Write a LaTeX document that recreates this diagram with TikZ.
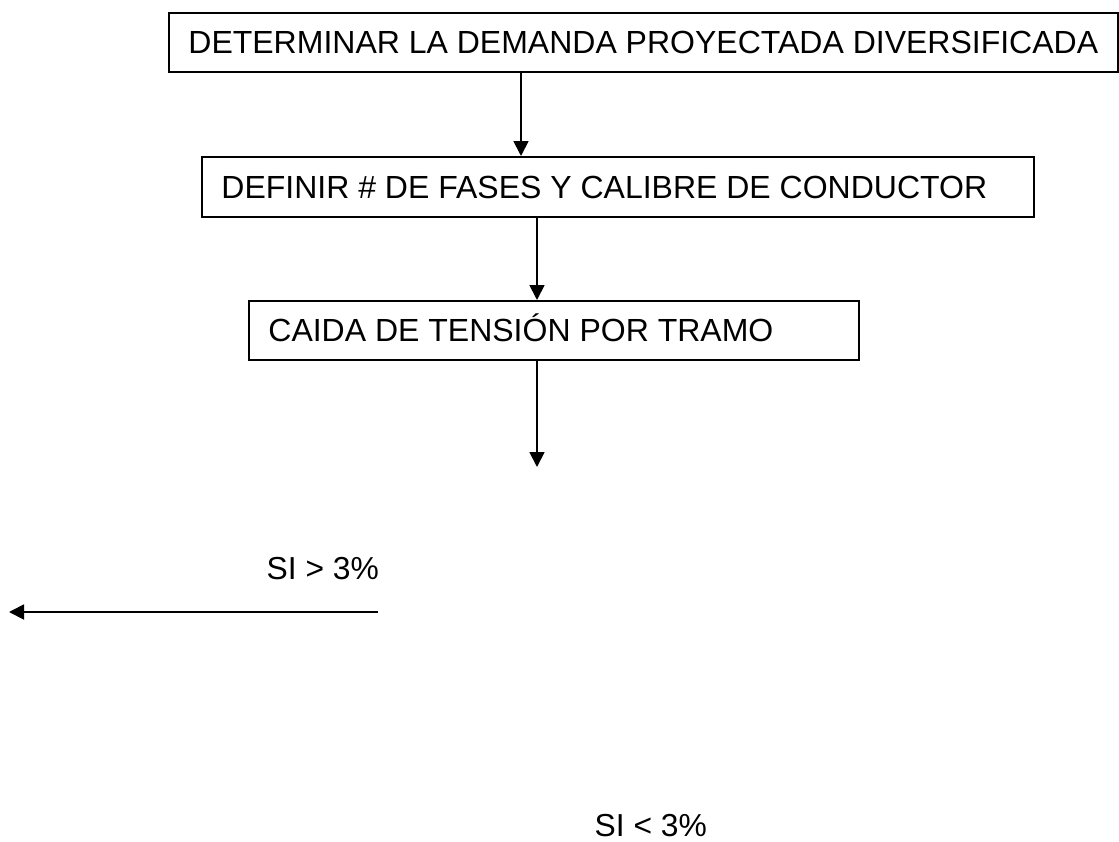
\documentclass[tikz,border=0pt]{standalone}
\usepackage{fontspec}
\setmainfont{Liberation Sans}
\usetikzlibrary{arrows.meta}
\tikzset{
  flowbox/.style={draw=black, line width=1.8pt, inner xsep=19.5pt, inner ysep=0pt,
    text height=22.9pt, text depth=0pt, anchor=north west,
    font=\fontsize{32}{38}\selectfont},
  flowlbl/.style={inner sep=0pt, anchor=base west, font=\fontsize{31.8}{38}\selectfont},
  flowarrow/.style={line width=1.8pt, -{Triangle[length=15pt,width=15pt]}}
}
\begin{document}
\begin{tikzpicture}[x=1pt,y=-1pt]
\useasboundingbox (0,0) rectangle (1119,841);
\node[flowbox, minimum width=949pt, minimum height=59pt] (b1) at (168,12)
  {\makebox[910pt][l]{DETERMINAR LA DEMANDA PROYECTADA DIVERSIFICADA}};
\node[flowbox, minimum width=832pt, minimum height=60pt] (b2) at (201,156)
  {\makebox[793pt][l]{DEFINIR \# DE FASES Y CALIBRE DE CONDUCTOR}};
\node[flowbox, minimum width=610pt, minimum height=59pt] (b3) at (248,300)
  {\makebox[571pt][l]{CAIDA DE TENSIÓN POR TRAMO}};
\coordinate (x1) at (521,0);
\coordinate (x2) at (537,0);
\coordinate (e3) at (537,467);
\coordinate (h1) at (378,612);
\coordinate (h2) at (9,612);
\draw[flowarrow] (b1.south -| x1) -- (b2.north -| x1);
\draw[flowarrow] (b2.south -| x2) -- (b3.north -| x2);
\draw[flowarrow] (b3.south -| x2) -- (e3);
\draw[flowarrow] (h1) -- (h2);
\node[flowlbl] (l1) at (266.5,579) {SI > 3\%};
\node[flowlbl] (l2) at (594.5,836) {SI < 3\%};
\end{tikzpicture}
\end{document}
